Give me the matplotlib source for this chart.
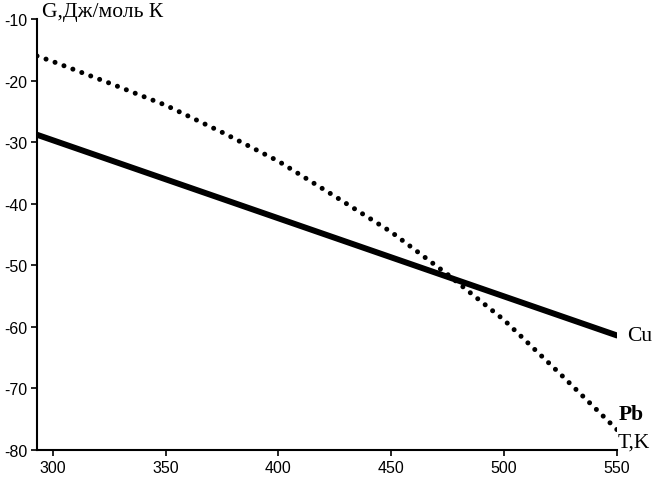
import matplotlib
matplotlib.use('Agg')
import matplotlib.pyplot as plt

plt.rcParams['axes.unicode_minus'] = False

# Данные: температура (К) и G (Дж/моль К)
T_cu = [293, 550]
G_cu = [-28.8, -61.4]

T_pb = [293, 300, 325, 350, 375, 400, 425, 450, 475, 500, 525, 550]
G_pb = [-16.0, -16.9, -20.4, -24.0, -28.4, -33.1, -38.8, -44.6, -51.5, -58.9, -67.7, -76.7]

xticks = [300, 350, 400, 450, 500, 550]
yticks = [-80, -70, -60, -50, -40, -30, -20, -10]

fig = plt.figure(figsize=(6.55, 4.81), dpi=100)
ax = fig.add_axes([37 / 655, 30 / 481, 580 / 655, 431 / 481])

ax.plot(T_cu, G_cu, color='black', linewidth=4.3, solid_capstyle='round')
ax.plot(T_pb, G_pb, color='black', linewidth=3.6, linestyle=(0, (0.01, 1.9)),
        dash_capstyle='round')

ax.set_xlim(293, 550)
ax.set_ylim(-80, -10)
ax.set_xticks(xticks)
ax.set_yticks(yticks)

for s in ['top', 'right']:
    ax.spines[s].set_visible(False)
for s in ['left', 'bottom']:
    ax.spines[s].set_linewidth(1.5)

ax.tick_params(direction='out', length=4, width=1.2, labelsize=11.5, pad=3)
for lab in ax.get_xticklabels() + ax.get_yticklabels():
    lab.set_family('Liberation Sans')

# Подписи
serif = 'Liberation Serif'
ax.text(295.3, -9.46, 'G,Дж/моль К', family=serif, fontsize=15.5, va='baseline', ha='left', clip_on=False)
ax.text(554.5, -62.1, 'Cu', family=serif, fontsize=15.5, va='baseline', ha='left', clip_on=False)
ax.text(550.6, -74.9, 'Pb', family=serif, fontsize=15.5, fontweight='bold', va='baseline', ha='left', clip_on=False)
ax.text(550.1, -79.5, 'T,K', family=serif, fontsize=15.5, va='baseline', ha='left', clip_on=False)

fig.savefig('out.png', dpi=100)
